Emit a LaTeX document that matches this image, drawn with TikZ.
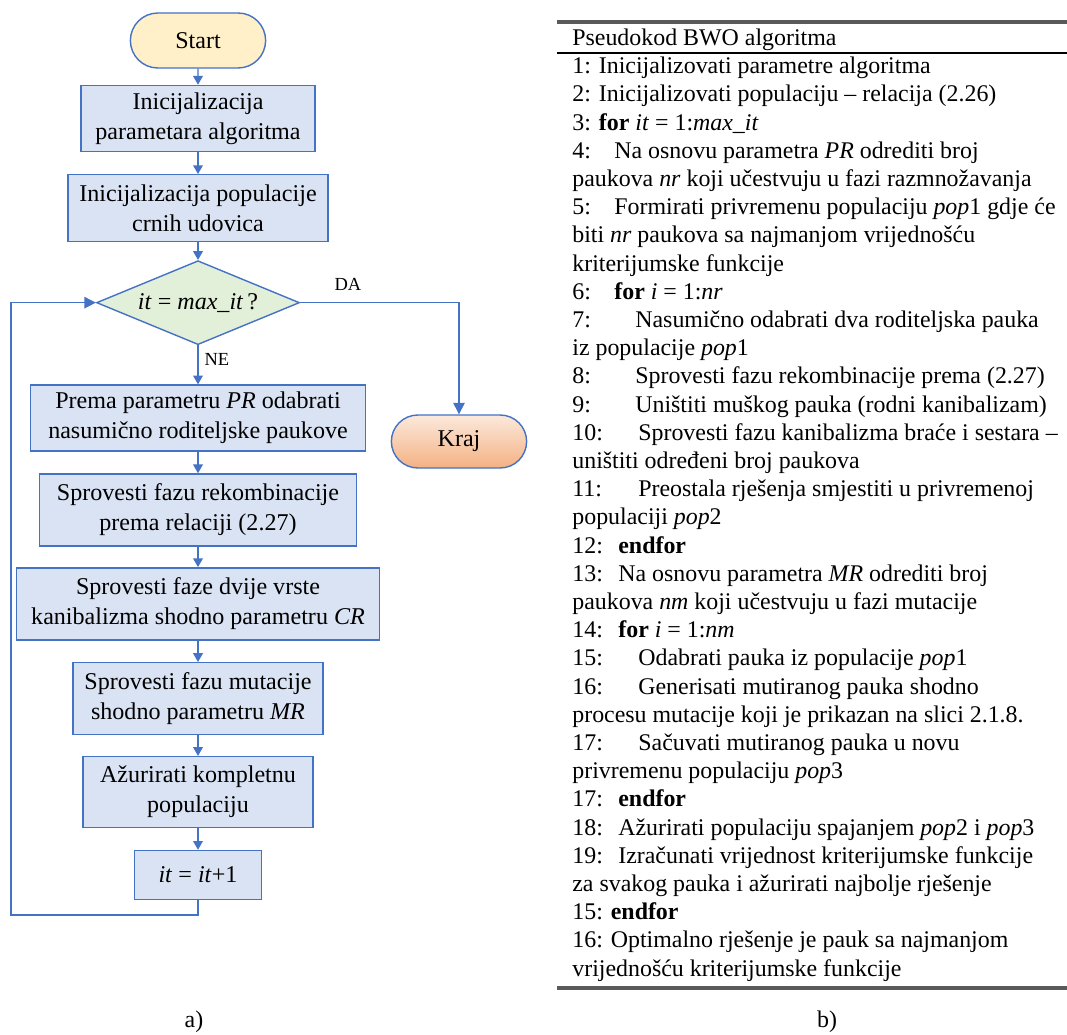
\documentclass[tikz,border=0pt]{standalone}
\usepackage{fontspec}
\setmainfont{Liberation Serif}
\usetikzlibrary{shapes.geometric,shapes.misc,arrows.meta,positioning}
\definecolor{flowblue}{HTML}{4472C4}
\definecolor{procfill}{HTML}{DAE3F3}
\definecolor{decfill}{HTML}{E2F0D9}
\definecolor{startfill}{HTML}{FFF0C9}
\definecolor{endtop}{HTML}{FCE9DC}
\definecolor{endbot}{HTML}{F4B183}
\definecolor{rulegray}{HTML}{5A5A5A}
\newcommand{\flowfont}{\fontsize{13.7}{17}\selectfont}
\newcommand{\codefont}{\fontsize{13.6}{16}\selectfont}

\begin{document}
\begin{tikzpicture}[
    x=0.02cm, y=-0.02cm,
    node distance=0.45cm,
    proc/.style={draw=flowblue, fill=procfill, line width=0.8pt, align=center, font=\flowfont, inner sep=2pt},
    term/.style={rounded rectangle, draw=flowblue, line width=0.8pt, font=\flowfont, minimum width=2.94cm, minimum height=1.1cm},
    decide/.style={diamond, aspect=2.42, draw=flowblue, fill=decfill, line width=0.8pt, font=\flowfont, inner sep=0pt, minimum width=4.06cm, minimum height=1.68cm},
    flow/.style={draw=flowblue, line width=0.8pt, -{Triangle[length=5pt,width=5.5pt]}},
    bigflow/.style={draw=flowblue, line width=0.8pt, -{Triangle[length=6.5pt,width=6.5pt]}},
    lbl/.style={font=\fontsize{10.5}{12}\selectfont, text=black},
    code/.style={anchor=base west, inner sep=0pt, font=\codefont},
  ]
  \useasboundingbox (0,0) rectangle (1067,1034);

  \node[term, fill=startfill] (start) at (198,40.5) {Start};
  \node[proc, below=0.32cm of start, minimum width=4.68cm, minimum height=1.32cm] (init) {Inicijalizacija\\parametara algoritma};
  \node[proc, below=0.44cm of init, minimum width=5.2cm, minimum height=1.34cm] (pop) {Inicijalizacija populacije\\crnih udovica};
  \node[decide, below=0.35cm of pop] (dec) {\textit{it} = \textit{max\_it}\,?};
  \node[proc, below=0.78cm of dec, minimum width=6.7cm, minimum height=1.32cm] (sel) {Prema parametru \textit{PR} odabrati\\nasumično roditeljske paukove};
  \node[proc, below=0.43cm of sel, minimum width=6.34cm, minimum height=1.44cm] (rec) {Sprovesti fazu rekombinacije\\prema relaciji (2.27)};
  \node[proc, below=0.41cm of rec, minimum width=7.26cm, minimum height=1.44cm] (can) {Sprovesti faze dvije vrste\\kanibalizma shodno parametru \textit{CR}};
  \node[proc, below=0.43cm of can, minimum width=5cm, minimum height=1.44cm] (mut) {Sprovesti fazu mutacije\\shodno parametru \textit{MR}};
  \node[proc, below=0.41cm of mut, minimum width=4.6cm, minimum height=1.42cm] (upd) {Ažurirati kompletnu\\populaciju};
  \node[proc, below=0.43cm of upd, minimum width=2.54cm, minimum height=0.98cm] (inc) {\textit{it} = \textit{it}+1};
  \node[term, top color=endtop, bottom color=endbot, minimum height=1.06cm] (kraj) at (459,441.5) {Kraj};

  \foreach \a/\b in {start/init, init/pop, pop/dec, sel/rec, rec/can, can/mut, mut/upd, upd/inc}
    \draw[flow] (\a) -- (\b);
  \draw[flow] (dec) -- node[lbl, pos=0.35, right] {NE} (sel);
  \draw[bigflow] (dec.east) -| node[lbl, pos=0.15, above=3pt] {DA} (kraj.north);
  \coordinate (loop) at (11,915);
  \draw[bigflow] (inc.south) |- (loop) |- (dec.west);

  \node[lbl, font=\codefont] (capa) at (194,1022) {a)};

  \draw[rulegray, line width=2pt] (557,22) -- (1067,22);
  \draw[black, line width=1.2pt] (557,53) -- (1067,53);
  \draw[rulegray, line width=2pt] (557,988) -- (1067,988);

  \foreach \k/\ind/\txt in {
      0/572/{Pseudokod BWO algoritma},
      1/572/{1: Inicijalizovati parametre algoritma},
      2/572/{2: Inicijalizovati populaciju – relacija (2.26)},
      3/572/{3: \textbf{for} \textit{it} = 1:\textit{max\_it}},
      4/614/{Na osnovu parametra \textit{PR} odrediti broj},
      5/572/{paukova \textit{nr} koji učestvuju u fazi razmnožavanja},
      6/614/{Formirati privremenu populaciju \textit{pop}1 gdje će},
      7/572/{biti \textit{nr} paukova sa najmanjom vrijednošću},
      8/572/{kriterijumske funkcije},
      9/614/{\textbf{for} \textit{i} = 1:\textit{nr}},
      10/635/{Nasumično odabrati dva roditeljska pauka},
      11/572/{iz populacije \textit{pop}1},
      12/635/{Sprovesti fazu rekombinacije prema (2.27)},
      13/635/{Uništiti muškog pauka (rodni kanibalizam)},
      14/638/{Sprovesti fazu kanibalizma braće i sestara –},
      15/572/{uništiti određeni broj paukova},
      16/638/{Preostala rješenja smjestiti u privremenoj},
      17/572/{populaciji \textit{pop}2},
      18/618/{\textbf{endfor}},
      19/618/{Na osnovu parametra \textit{MR} odrediti broj},
      20/572/{paukova \textit{nm} koji učestvuju u fazi mutacije},
      21/618/{\textbf{for} \textit{i} = 1:\textit{nm}},
      22/638/{Odabrati pauka iz populacije \textit{pop}1},
      23/638/{Generisati mutiranog pauka shodno},
      24/572/{procesu mutacije koji je prikazan na slici 2.1.8.},
      25/638/{Sačuvati mutiranog pauka u novu},
      26/572/{privremenu populaciju \textit{pop}3},
      27/618/{\textbf{endfor}},
      28/618/{Ažurirati populaciju spajanjem \textit{pop}2 i \textit{pop}3},
      29/618/{Izračunati vrijednost kriterijumske funkcije},
      30/572/{za svakog pauka i ažurirati najbolje rješenje},
      31/572/{15: \textbf{endfor}},
      32/572/{16: Optimalno rješenje je pauk sa najmanjom},
      33/572/{vrijednošću kriterijumske funkcije}}
    \node[code] (row\k) at (\ind,{45.5+\k*28.2}) {\txt};
  \foreach \k/\num in {4/4:, 6/5:, 9/6:, 10/7:, 12/8:, 13/9:, 14/10:, 16/11:, 18/12:, 19/13:, 21/14:, 22/15:, 23/16:, 25/17:, 27/17:, 28/18:, 29/19:}
    \node[code] (num\k) at (572,{45.5+\k*28.2}) {\num};

  \node[lbl, font=\codefont] (capb) at (827,1022) {b)};
\end{tikzpicture}
\end{document}
